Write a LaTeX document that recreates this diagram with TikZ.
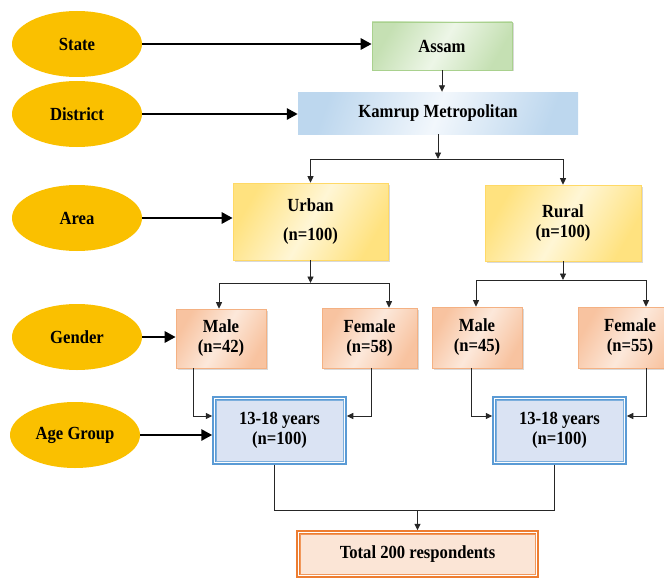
\documentclass[tikz,border=0pt]{standalone}
\usepackage{fontspec}
\setmainfont[FakeStretch=0.9]{Liberation Serif}
\usetikzlibrary{arrows.meta,shapes.geometric,shadows}
\definecolor{gold}{RGB}{250,192,0}
\definecolor{grA}{HTML}{C5E0B3}
\definecolor{grB}{HTML}{EDF6E7}
\definecolor{grD}{HTML}{A9D18E}
\definecolor{blA}{HTML}{BDD7EE}
\definecolor{blB}{HTML}{F2F7FC}
\definecolor{yeA}{HTML}{FFE27F}
\definecolor{yeB}{HTML}{FFF6D5}
\definecolor{yeD}{HTML}{FFD966}
\definecolor{peA}{HTML}{F8C3A0}
\definecolor{peB}{HTML}{FCE8DA}
\definecolor{peD}{HTML}{F4B183}
\definecolor{agF}{HTML}{DAE3F3}
\definecolor{agD}{HTML}{5B9BD5}
\definecolor{toF}{HTML}{FBE5D6}
\definecolor{toD}{HTML}{ED7D31}
\begin{document}
\begin{tikzpicture}[x=1pt,y=-1pt,
  font=\fontsize{18.5}{20}\selectfont\bfseries,
  lab/.style={ellipse, fill=gold, minimum width=130, minimum height=66, inner sep=0pt},
  shd/.style={drop shadow={shadow xshift=1.5pt, shadow yshift=-1.5pt, opacity=0.25, fill=black!60}},
  greenbox/.style={rectangle, draw=grD, line width=0.6pt, shading=axis, left color=grA, right color=grA, middle color=grB, shading angle=60, minimum width=140, minimum height=48, inner sep=0pt, shd},
  bluebox/.style={rectangle, shading=axis, left color=blA, right color=blA, middle color=blB, shading angle=70, minimum width=280, minimum height=42, inner sep=0pt},
  yelbox/.style={rectangle, draw=yeD, line width=0.6pt, shading=axis, left color=yeA, right color=yeA, middle color=yeB, shading angle=60, align=center, inner sep=0pt, shd},
  pchbox/.style={rectangle, draw=peD, line width=0.6pt, shading=axis, left color=peA, right color=peA, middle color=peB, shading angle=60, align=center, inner sep=0pt, shd},
  agebox/.style={rectangle, draw=agD, line width=3.5pt, fill=agF, align=center, minimum width=131, minimum height=65, inner sep=0pt},
  totbox/.style={rectangle, draw=toD, line width=3.5pt, fill=toF, align=center, minimum width=239, minimum height=44, inner sep=0pt},
  thickarr/.style={line width=2.8pt, -{Triangle[length=11pt,width=11pt]}},
  thinarr/.style={line width=0.9pt, black!85, -{Triangle[length=6.5pt,width=6pt]}},
  ln/.style={line width=0.9pt, black!85}
]
\useasboundingbox (0,0) rectangle (664,578);
\clip (0,0) rectangle (664,578);

% left labels
\node[lab] (state) at (77,44) {State};
\node[lab] (district) at (77,114) {District};
\node[lab] (area) at (77,218) {Area};
\node[lab] (gender) at (77,337) {Gender};
\node[lab] (agegrp) at (75,435) {Age Group};

% boxes
\node[greenbox] (assam) at (442,46) {Assam};
\node[bluebox] (kamrup) at (438,113) {Kamrup Metropolitan};
\node[yelbox, minimum width=155, minimum height=77] (urban) at (310.5,221.5) {Urban\\[9pt](n=100)};
\node[yelbox, minimum width=156, minimum height=76] (rural) at (563,223) {Rural\\(n=100)};
\node[pchbox, minimum width=90, minimum height=59] (male1) at (221,338.5) {Male\\(n=42)};
\node[pchbox, minimum width=95, minimum height=60] (fem1) at (369.5,338) {Female\\(n=58)};
\node[pchbox, minimum width=90, minimum height=61] (male2) at (477,337.5) {Male\\(n=45)};
\node[pchbox, minimum width=104, minimum height=61] (fem2) at (630,337.5) {Female\\(n=55)};
\node[agebox] (age1) at (279.5,430.5) {13-18 years\\(n=100)};
\node[agebox] (age2) at (559.5,430.5) {13-18 years\\(n=100)};
\node[totbox] (total) at (417.5,554) {Total 200 respondents};

% inner lines of double borders
\foreach \n in {age1,age2}{
  \draw[white, line width=1.2pt] ([shift={(2.6,2.6)}]\n.north west) rectangle ([shift={(-2.6,-2.6)}]\n.south east);
  \draw[agD!80, line width=0.8pt] ([shift={(3.8,3.8)}]\n.north west) rectangle ([shift={(-3.8,-3.8)}]\n.south east);
}
\draw[white, line width=1.2pt] ([shift={(2.6,2.6)}]total.north west) rectangle ([shift={(-2.6,-2.6)}]total.south east);
\draw[toD!80, line width=0.8pt] ([shift={(3.8,3.8)}]total.north west) rectangle ([shift={(-3.8,-3.8)}]total.south east);

% thick arrows from labels
\draw[thickarr] (state.east) -- (state.east -| assam.west);
\draw[thickarr] (district.east) -- (district.east -| kamrup.west);
\draw[thickarr] (area.east) -- (area.east -| urban.west);
\draw[thickarr] (gender.east) -- (gender.east -| male1.west);
\draw[thickarr] (agegrp.east) -- (agegrp.east -| age1.west);

% tree connectors
\draw[thinarr] (assam.south) -- (assam.south |- kamrup.north);
\coordinate (j1) at (438,159);
\draw[thinarr] (kamrup.south) -- (j1);
\draw[thinarr] (j1) -| (urban.north);
\draw[thinarr] (j1) -| (rural.north);

\coordinate (j2) at (310.5,283);
\draw[thinarr] (urban.south) -- (j2);
\draw[thinarr] (j2) -| ([xshift=-2pt]male1.north);
\draw[thinarr] (j2) -| ([xshift=19.5pt]fem1.north);

\coordinate (j3) at (563,280);
\draw[thinarr] (rural.south) -- (j3);
\draw[thinarr] (j3) -| ([xshift=-1pt]male2.north);
\draw[thinarr] (j3) -| ([xshift=16pt]fem2.north);

\draw[thinarr] ([xshift=-28pt]male1.south) |- ([yshift=14.5pt]age1.west);
\draw[thinarr] ([xshift=1.5pt]fem1.south) |- ([yshift=14.5pt]age1.east);
\draw[thinarr] ([xshift=-6pt]male2.south) |- ([yshift=14.5pt]age2.west);
\draw[thinarr] ([xshift=16pt]fem2.south) |- ([yshift=14.5pt]age2.east);

\coordinate (j4) at (417.5,510);
\draw[ln] ([xshift=-5.5pt]age1.south) |- (j4);
\draw[ln] ([xshift=-5.5pt]age2.south) |- (j4);
\draw[thinarr] (j4) -- (total.north);
\end{tikzpicture}
\end{document}
